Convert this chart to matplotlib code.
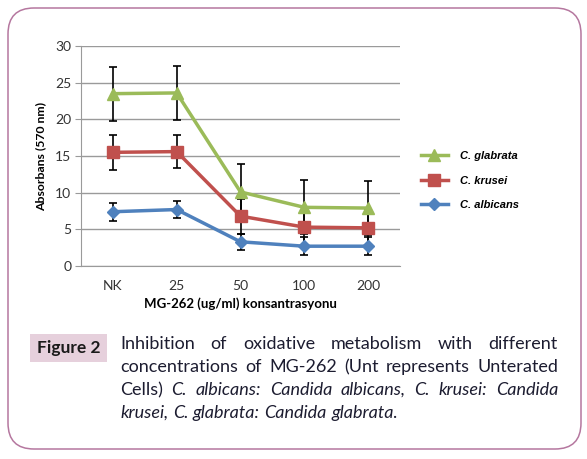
import matplotlib
matplotlib.use('Agg')
import matplotlib.pyplot as plt
from matplotlib.patches import FancyBboxPatch, Rectangle
from matplotlib.transforms import IdentityTransform

categories = ['NK', '25', '50', '100', '200']
glabrata = [23.5, 23.6, 10.1, 8.0, 7.9]
glabrata_err = [3.7, 3.7, 3.8, 3.7, 3.7]
krusei = [15.5, 15.6, 6.8, 5.3, 5.2]
krusei_err = [2.4, 2.3, 2.4, 2.4, 2.4]
albicans = [7.4, 7.7, 3.3, 2.7, 2.7]
albicans_err = [1.2, 1.2, 1.1, 1.2, 1.2]

caption_lines = [
    [("Inhibition", False), ("of", False), ("oxidative", False), ("metabolism", False),
     ("with", False), ("different", False)],
    [("concentrations", False), ("of", False), ("MG-262", False), ("(Unt", False),
     ("represents", False), ("Unterated", False)],
    [("Cells)", False), ("C.", True), ("albicans:", True), ("Candida", True), ("albicans,", True),
     ("C.", True), ("krusei:", True), ("Candida", True)],
    [("krusei,", True), ("C.", True), ("glabrata:", True), ("Candida", True), ("glabrata.", True)],
]

plt.rcParams['font.family'] = ['Lato', 'DejaVu Sans']
W, H = 587, 459
fig = plt.figure(figsize=(W / 100, H / 100), dpi=100)
fig.patch.set_facecolor('white')

# outer rounded frame (pixel coords)
frame = FancyBboxPatch((8, H - 449), 573, 441, boxstyle="round,pad=0,rounding_size=26",
                       transform=IdentityTransform(), fc='none', ec='#b5779f', lw=1.1)
fig.add_artist(frame)

ax = fig.add_axes([81 / W, (H - 266) / H, 319 / W, 220 / H])
x = range(len(categories))
ebkw = dict(ecolor='black', elinewidth=1.2, capsize=3, capthick=1.2)
series = [('C. glabrata', glabrata, glabrata_err, '#9bbb59', '^', 9),
          ('C. krusei', krusei, krusei_err, '#c0504d', 's', 8.5),
          ('C. albicans', albicans, albicans_err, '#4f81bd', 'D', 6.5)]
handles = []
for name, vals, errs, col, mk, ms in series:
    ax.errorbar(x, vals, yerr=errs, fmt='none', zorder=2, **ebkw)
    ln, = ax.plot(x, vals, color=col, lw=2.5, marker=mk, ms=ms, label=name, zorder=3)
    handles.append(ln)

ax.set_xlim(-0.5, len(categories) - 0.5)
ax.set_ylim(0, 30)
ax.set_yticks(range(0, 31, 5))
ax.set_xticks(list(x))
ax.set_xticklabels(categories)
ax.grid(axis='y', color='#9a9a9a', lw=1)
ax.set_axisbelow(True)
for s in ['top', 'right']:
    ax.spines[s].set_visible(False)
ax.spines['left'].set_color('#9a9a9a')
ax.spines['bottom'].set_color('#9a9a9a')
ax.tick_params(axis='y', length=4, color='#9a9a9a', labelsize=10, labelcolor='#333333', pad=3)
ax.tick_params(axis='x', length=0, labelsize=10, labelcolor='#333333', pad=10)
ax.set_ylabel('Absorbans (570 nm)', fontsize=8.8, fontweight='bold', labelpad=6)
ax.set_xlabel('MG-262 (ug/ml) konsantrasyonu', fontsize=9.5, fontweight='bold', labelpad=4)

fig.legend(handles, [s[0] for s in series], loc='center left',
           bbox_to_anchor=(421 / W, (H - 180.5) / H),
           frameon=False, borderpad=0, borderaxespad=0, handlelength=2.4,
           handletextpad=1.1, labelspacing=1.3,
           prop=dict(family='Liberation Sans', weight='bold', style='italic', size=8))

# "Figure 2" label box
fig.add_artist(Rectangle((30, H - 362), 77, 28, transform=IdentityTransform(),
                         fc='#e6d0dc', ec='none'))
fig.text(68.5, H - 348, 'Figure 2', transform=IdentityTransform(), ha='center', va='center',
         fontsize=12.5, fontweight='bold', color='#1a1a1a')

# justified caption
renderer = fig.canvas.get_renderer()
x0, x1 = 120, 558
baselines = [349, 372, 395, 418]
fs = 13


def measure(s, it):
    t = fig.text(0, 0, s, fontsize=fs, style='italic' if it else 'normal')
    w = t.get_window_extent(renderer).width
    t.remove()
    return w


space = measure('a b', False) - measure('ab', False)
for i, words in enumerate(caption_lines):
    widths = [measure(w, it) for w, it in words]
    if i < len(caption_lines) - 1:
        gap = (x1 - x0 - sum(widths)) / (len(words) - 1)
    else:
        gap = space
    pos = x0
    for (w, it), wd in zip(words, widths):
        fig.text(pos, H - baselines[i], w, transform=IdentityTransform(), va='baseline',
                 fontsize=fs, color='#1c1c30', style='italic' if it else 'normal')
        pos += wd + gap

fig.savefig('out.png', dpi=100)
